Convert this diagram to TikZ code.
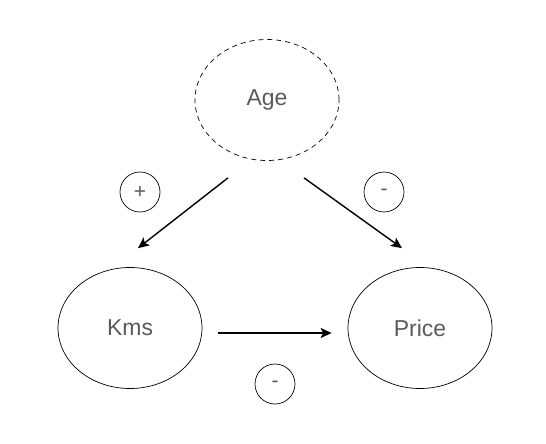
\documentclass[tikz,border=0pt]{standalone}
\usepackage{fontspec}
\setmainfont{Liberation Sans}
\usetikzlibrary{positioning}
\usetikzlibrary{shapes.geometric}
\usetikzlibrary{arrows.meta}
\definecolor{labelgray}{RGB}{90,90,90}

\begin{document}
\begin{tikzpicture}[
    x=1pt, y=-1pt,
    on grid,
    varnode/.style={draw,ellipse,line width=0.7pt,minimum width=144pt,minimum height=121pt,inner sep=0pt,text=labelgray,font=\fontsize{23}{27}\selectfont},
    signnode/.style={draw,circle,line width=0.7pt,minimum size=40pt,inner sep=0pt,text=labelgray,font=\fontsize{21}{24}\selectfont},
    effect/.style={line width=1.4pt,-{Stealth[length=11pt,width=10pt,inset=2.5pt]}}
    ]
    \useasboundingbox (0,0) rectangle (546,444);

    \node[varnode, dashed, dash pattern=on 5pt off 4pt] (age) at (267,100) {Age};
    \node[varnode, below left=228pt and 137pt of age] (kms) {Kms};
    \node[varnode, below right=228pt and 153pt of age] (price) {Price};

    \node[signnode, below left=92pt and 127pt of age] (sak) {+};
    \node[signnode, below right=92pt and 117pt of age] (sap) {-};
    \node[signnode, below right=56pt and 145pt of kms] (skp) {-};

    \coordinate[below left=17pt and 39pt of age.south] (ak1);
    \coordinate[above right=19pt and 8pt of kms.north] (ak2);
    \coordinate[below right=17pt and 37pt of age.south] (ap1);
    \coordinate[above left=19pt and 18pt of price.north] (ap2);
    \coordinate[below right=5pt and 16pt of kms.east] (kp1);
    \coordinate[below left=5pt and 16pt of price.west] (kp2);

    \path (ak1) edge[effect] (ak2)
    (ap1) edge[effect] (ap2)
    (kp1) edge[effect] (kp2)
    ;

\end{tikzpicture}
\end{document}
